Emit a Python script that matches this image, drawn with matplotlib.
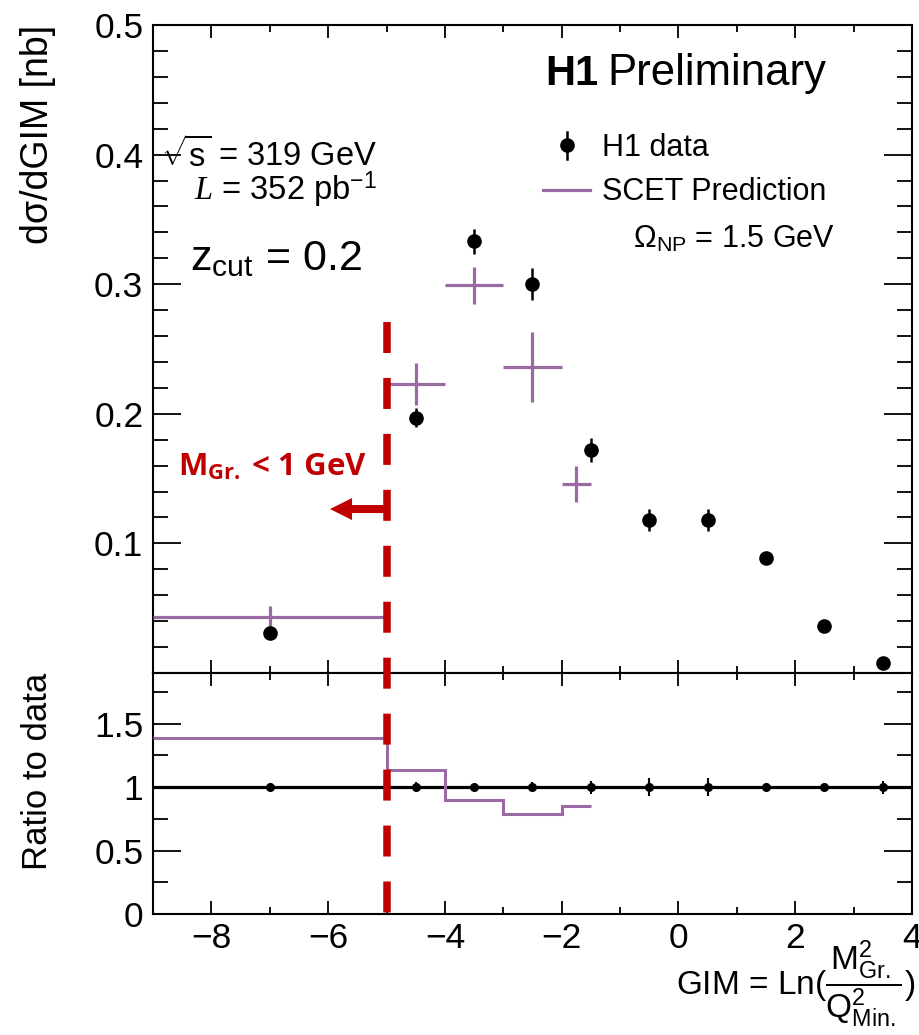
import numpy as np
import matplotlib
matplotlib.use("Agg")
import matplotlib.pyplot as plt
from matplotlib.ticker import MultipleLocator, FuncFormatter
from matplotlib.lines import Line2D

plt.rcParams['font.family'] = ['Liberation Sans', 'DejaVu Sans']
plt.rcParams['mathtext.fontset'] = 'custom'
plt.rcParams['mathtext.rm'] = 'Liberation Sans'
plt.rcParams['mathtext.sf'] = 'Liberation Sans'
plt.rcParams['mathtext.it'] = 'Liberation Serif:italic'
plt.rcParams['mathtext.bf'] = 'Open Sans:bold'

# H1 data in GIM bins
bin_edges = [-9, -5, -4, -3, -2, -1, 0, 1, 2, 3, 4]
data_x = [-7, -4.5, -3.5, -2.5, -1.5, -0.5, 0.5, 1.5, 2.5, 3.5]
data_y = [0.031, 0.197, 0.333, 0.300, 0.172, 0.118, 0.118, 0.089, 0.036, 0.008]
data_err = [0.001, 0.0075, 0.0095, 0.0125, 0.009, 0.0085, 0.0085, 0.0027, 0.001, 0.0004]

# SCET prediction (Omega_NP = 1.5 GeV)
scet_edges = [-9, -5, -4, -3, -2, -1.5]
scet_y = [0.043, 0.223, 0.299, 0.236, 0.146]
scet_err = [0.0085, 0.016, 0.014, 0.027, 0.014]

gim_cut = -5          # M_Gr. < 1 GeV region boundary
cut_line_top = 0.271

W, H = 920, 1035
purple = '#9b6aa5'
red = '#c00000'


def fpos(x, y):
    # pixel position -> figure fraction
    return x / W, 1 - y / H


edges = np.array(scet_edges, dtype=float)
scet_x = 0.5 * (edges[:-1] + edges[1:])
scet_hw = 0.5 * (edges[1:] - edges[:-1])
dy = np.array(data_y)
idx = np.searchsorted(bin_edges, scet_x) - 1
ratio = np.array(scet_y) / dy[idx]
rel_err = np.array(data_err) / dy

fig = plt.figure(figsize=(W / 100, H / 100), dpi=100)
left, right = 153 / W, 912 / W
ax1 = fig.add_axes([left, (H - 673) / H, right - left, 648 / H])
ax2 = fig.add_axes([left, (H - 914) / H, right - left, 241 / H])

# upper panel
ax1.errorbar(scet_x, scet_y, xerr=scet_hw, yerr=scet_err, fmt='none',
             ecolor=purple, elinewidth=2.3, capsize=0, zorder=3)
ax1.errorbar(data_x, data_y, yerr=data_err, fmt='o', color='k', ms=9.5,
             elinewidth=1.8, capsize=0, zorder=4)
ax1.set_xlim(-9, 4)
ax1.set_ylim(0, 0.5)

# ratio panel
ax2.axhline(1, color='k', lw=2.3, zorder=2)
ax2.stairs(ratio, edges, baseline=None, color=purple, lw=2.2, zorder=3)
ax2.errorbar(data_x, np.ones(len(data_x)), yerr=rel_err, fmt='o', color='k',
             ms=5.5, elinewidth=1.5, capsize=0, zorder=4)
ax2.set_xlim(-9, 4)
ax2.set_ylim(0, 1.9)

fmt_g = FuncFormatter(lambda v, p: '' if abs(v) < 1e-9 else f'{v:g}')
fmt_g0 = FuncFormatter(lambda v, p: f'{v:g}')

for ax in (ax1, ax2):
    for s in ax.spines.values():
        s.set_linewidth(1.5)
    ax.xaxis.set_major_locator(MultipleLocator(2))
    ax.xaxis.set_minor_locator(MultipleLocator(1))
    ax.tick_params(which='both', direction='in', top=True, right=True,
                   labelsize=25.5, width=1.3)
    ax.tick_params(axis='x', which='major', length=9.5, pad=6)
    ax.tick_params(axis='x', which='minor', length=5)
    ax.tick_params(axis='y', which='major', length=20, pad=7)
    ax.tick_params(axis='y', which='minor', length=10.5)

ax1.yaxis.set_major_locator(MultipleLocator(0.1))
ax1.yaxis.set_minor_locator(MultipleLocator(0.02))
ax1.yaxis.set_major_formatter(fmt_g)
ax1.tick_params(labelbottom=False)

ax2.yaxis.set_major_locator(MultipleLocator(0.5))
ax2.yaxis.set_minor_locator(MultipleLocator(0.25))
ax2.yaxis.set_major_formatter(fmt_g0)

# dashed cut line through both panels
inv = fig.transFigure.inverted()
x_top, y_top = inv.transform(ax1.transData.transform((gim_cut, cut_line_top)))
x_bot, y_bot = inv.transform(ax2.transData.transform((gim_cut, 0)))
fig.add_artist(Line2D([x_top, x_bot], [y_top, y_bot], transform=fig.transFigure,
                      color=red, lw=5.4, dashes=(4.13, 3.33),
                      dash_capstyle='butt', zorder=10))

# horizontal arrow pointing into the excluded region
ax1.arrow(gim_cut, 0.1265, -0.968, 0, width=0.0062, head_width=0.017,
          head_length=0.377, length_includes_head=True, color=red, lw=0)
fig.text(*fpos(178, 475), r'M$_{\mathbf{Gr.}}$ < 1 GeV', color=red,
         family='Open Sans', weight='bold', size=22.5, ha='left', va='baseline')

# labels
fig.text(*fpos(545, 85), 'H1', weight='bold', size=30, ha='left', va='baseline')
fig.text(*fpos(607, 85), 'Preliminary', size=31.5, ha='left', va='baseline')
fig.text(*fpos(377, 167), r'$\sqrt{\mathrm{s}}$ = 319 GeV', size=23.5, ha='right', va='baseline')
fig.text(*fpos(377, 200), r'$\mathit{L}$ = 352 pb$^{-1}$', size=23.5, ha='right', va='baseline')
fig.text(*fpos(190, 270), r'$\mathrm{z_{cut}}$ = 0.2', size=31, ha='left', va='baseline')

# legend
mx, my = fpos(567, 145)
fig.add_artist(Line2D([mx], [my], marker='o', ms=9.5, color='k', transform=fig.transFigure))
fig.add_artist(Line2D([mx, mx], [fpos(0, 132)[1], fpos(0, 159)[1]], lw=1.8, color='k',
                      transform=fig.transFigure))
fig.add_artist(Line2D([fpos(543, 0)[0], fpos(590, 0)[0]], [fpos(0, 190)[1]] * 2,
                      lw=2.3, color=purple, transform=fig.transFigure))
fig.text(*fpos(602, 156), 'H1 data', size=22, ha='left', va='baseline')
fig.text(*fpos(602, 200), 'SCET Prediction', size=22, ha='left', va='baseline')
fig.text(*fpos(633, 247), r'$\Omega_{\mathrm{NP}}$ = 1.5 GeV', size=22, ha='left', va='baseline')

fig.text(*fpos(38, 25), 'dσ/dGIM [nb]', rotation=90, size=27, ha='center', va='top')
fig.text(*fpos(38, 673), 'Ratio to data', rotation=90, size=25, ha='center', va='top')
fig.text(*fpos(915, 995),
         r'GIM = Ln($\dfrac{\mathrm{M^{2}_{Gr.}}}{\mathrm{Q^{2}_{Min.}}}$)',
         size=24, ha='right', va='baseline')

fig.savefig('out.png', dpi=100)
